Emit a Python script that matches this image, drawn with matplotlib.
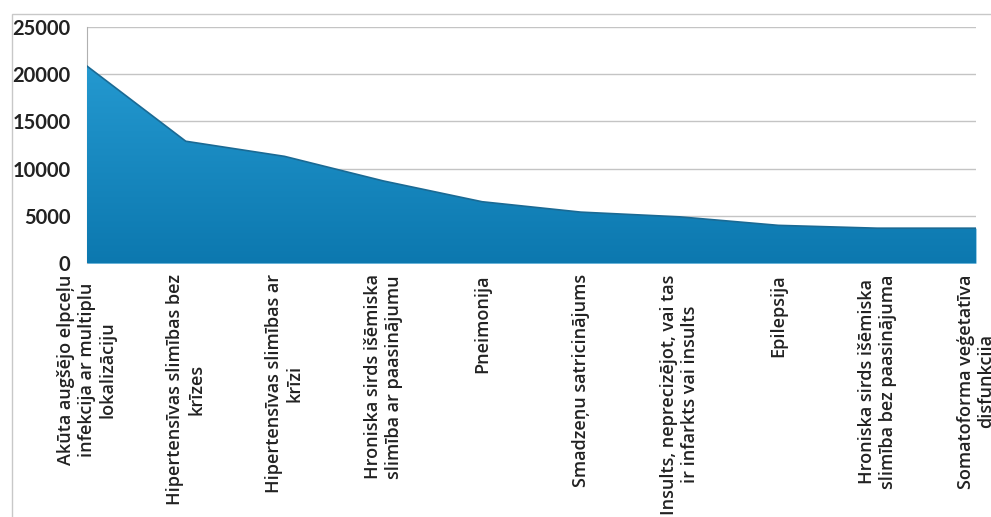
import matplotlib
matplotlib.use("Agg")
import matplotlib.pyplot as plt
import numpy as np
from matplotlib.patches import Rectangle
from matplotlib.colors import LinearSegmentedColormap

categories = [
    "Akūta augšējo elpceļu\ninfekcija ar multiplu\nlokalizāciju",
    "Hipertensīvas slimības bez\nkrīzes",
    "Hipertensīvas slimības ar\nkrīzi",
    "Hroniska sirds išēmiska\nslimība ar paasinājumu",
    "Pneimonija",
    "Smadzeņu satricinājums",
    "Insults, neprecizējot, vai tas\nir infarkts vai insults",
    "Epilepsija",
    "Hroniska sirds išēmiska\nslimība bez paasinājuma",
    "Somatoforma veģetatīva\ndisfunkcija",
]
values = [20850, 12900, 11300, 8700, 6500, 5400, 4900, 4000, 3700, 3700]
yticks = [0, 5000, 10000, 15000, 20000, 25000]

fig = plt.figure(figsize=(9.91, 5.17), dpi=100)
ax = fig.add_axes([0.0878, 0.491, 0.897, 0.457])

x = np.arange(len(values))
ax.set_xlim(0, len(values) - 1)
ax.set_ylim(0, 25000)

poly = ax.fill_between(x, values, 0, color="#1a8cc4", linewidth=0, zorder=2)
grad = np.linspace(0, 1, 256).reshape(-1, 1)
cmap = LinearSegmentedColormap.from_list("g", ["#0c78af", "#2499d0"])
im = ax.imshow(grad, extent=[0, len(values) - 1, 0, max(values)], origin="lower",
               aspect="auto", cmap=cmap, zorder=3)
im.set_clip_path(poly.get_paths()[0], transform=ax.transData)
ax.plot(x, values, color="#1b6a94", linewidth=1.2, zorder=4)

ax.set_yticks(yticks)
ax.set_yticklabels([str(v) for v in yticks], fontfamily="Lato", fontweight="bold",
                   fontsize=14.5, color="#222222")
ax.set_xticks(x)
ax.set_xticklabels(categories, rotation=90, ha="center", va="top",
                   fontfamily="Open Sans", fontweight=600, fontsize=13,
                   color="#222222", linespacing=1.2)
ax.tick_params(axis="both", length=0)
ax.tick_params(axis="x", pad=8)
ax.tick_params(axis="y", pad=12)

ax.grid(axis="y", color="#c4c4c4", linewidth=1.0, zorder=1)
ax.set_axisbelow(True)
for s in ["top", "right", "bottom"]:
    ax.spines[s].set_visible(False)
ax.spines["left"].set_color("#b0b0b0")

fig.patches.append(Rectangle((12 / 991, -0.1), 1.2, 1.1 - 14 / 517,
                             transform=fig.transFigure, fill=False,
                             edgecolor="#c8c8c8", linewidth=1.0))

fig.savefig("out.png", dpi=100)
